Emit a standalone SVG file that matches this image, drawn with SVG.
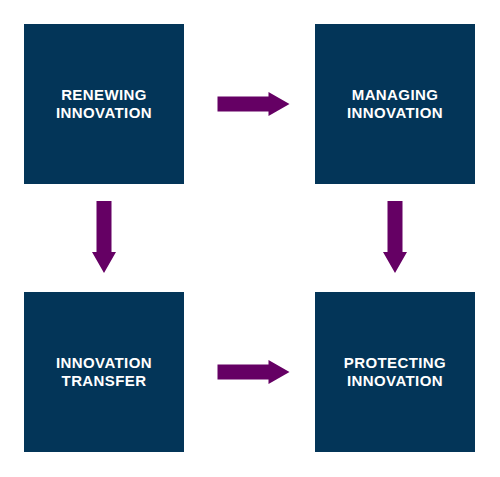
<svg xmlns="http://www.w3.org/2000/svg" width="500" height="477" viewBox="0 0 500 477">
<style>
.box{fill:#033558}
.lbl{fill:#ffffff;font-family:"Liberation Sans",Arial,sans-serif;font-weight:bold;font-size:15px;letter-spacing:0.4px;text-anchor:middle}
.arr{fill:#650064}
</style>
<defs>
<path id="ah" d="M0,-7.5 H51 V-12 L72,0 L51,12 V7.5 H0 Z"/>
</defs>
<rect width="500" height="477" fill="#ffffff"/>
<g id="renewing">
<rect class="box" x="24" y="24" width="160" height="160"/>
<text class="lbl" x="104" y="100">RENEWING</text>
<text class="lbl" x="104" y="118">INNOVATION</text>
</g>
<g id="managing">
<rect class="box" x="315" y="24" width="160" height="160"/>
<text class="lbl" x="395" y="100">MANAGING</text>
<text class="lbl" x="395" y="118">INNOVATION</text>
</g>
<g id="transfer">
<rect class="box" x="24" y="292" width="160" height="160"/>
<text class="lbl" x="104" y="368">INNOVATION</text>
<text class="lbl" x="104" y="386">TRANSFER</text>
</g>
<g id="protecting">
<rect class="box" x="315" y="292" width="160" height="160"/>
<text class="lbl" x="395" y="368">PROTECTING</text>
<text class="lbl" x="395" y="386">INNOVATION</text>
</g>
<g id="connectors">
<use href="#ah" class="arr" transform="translate(217.5,104)"/>
<use href="#ah" class="arr" transform="translate(217.5,372)"/>
<use href="#ah" class="arr" transform="translate(104,201) rotate(90)"/>
<use href="#ah" class="arr" transform="translate(395,201) rotate(90)"/>
</g>
</svg>
